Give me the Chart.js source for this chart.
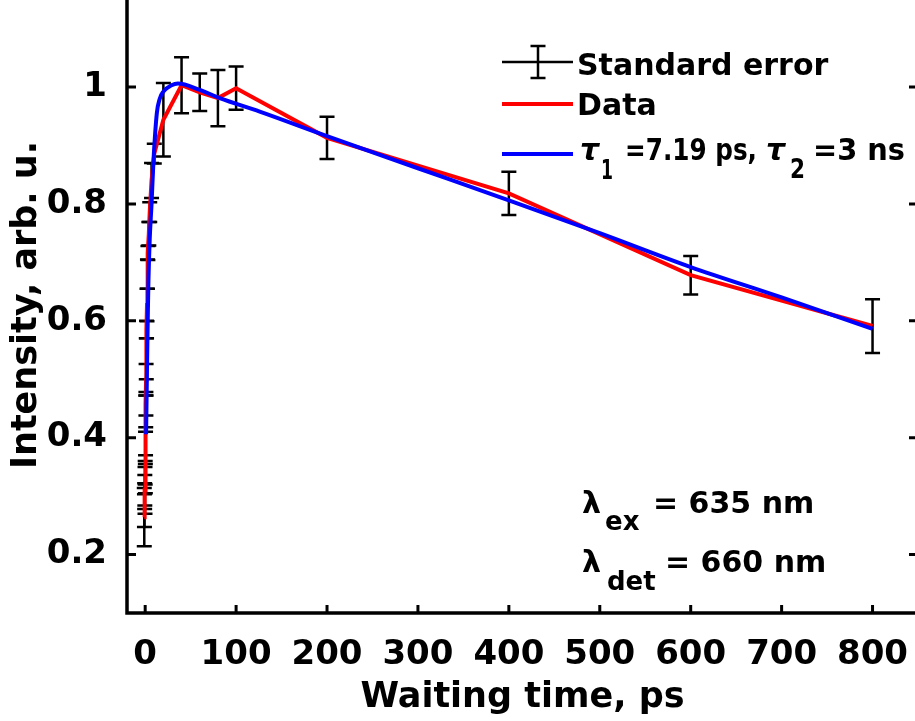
<!DOCTYPE html>
<html>
<head>
<meta charset="utf-8">
<script src="https://cdn.jsdelivr.net/npm/chart.js@4.4.1/dist/chart.umd.min.js"></script>
<style>
  html, body { margin: 0; padding: 0; background: #fff; overflow: hidden; }
  #wrap { width: 930px; height: 724px; margin-top: -3px; }
</style>
</head>
<body>
<div id="wrap"><canvas id="myChart"></canvas></div>
<script>
// measured points (ps) with standard error
const times  = [-1.0, -0.8, -0.6, -0.4, -0.2, 0, 0.2, 0.4, 0.6, 0.8, 1.0, 1.2, 1.5, 2.0, 2.5, 3.0, 4.0, 5.0, 7.0, 10, 20, 40, 60, 80, 100, 200, 400, 600, 800];
const values = [0.264, 0.275, 0.300, 0.310, 0.310, 0.340, 0.330, 0.390, 0.445, 0.458, 0.499, 0.535, 0.585, 0.627, 0.680, 0.716, 0.749, 0.786, 0.840, 0.886, 0.944, 1.003, 0.991, 0.981, 0.998, 0.913, 0.818, 0.678, 0.591];
const errors = [0.050, 0.028, 0.022, 0.026, 0.040, 0.020, 0.025, 0.020, 0.027, 0.020, 0.027, 0.035, 0.015, 0.028, 0.025, 0.012, 0.020, 0.017, 0.030, 0.017, 0.063, 0.048, 0.032, 0.048, 0.037, 0.036, 0.037, 0.033, 0.046];

// fit curve
const fitTimes  = [1, 2, 3, 3.6, 5, 7, 9, 12.8, 16, 20, 29, 36, 60, 82, 126, 200, 300, 400, 500, 600, 700, 800];
const fitValues = [0.406, 0.52, 0.62, 0.67, 0.74, 0.80, 0.87, 0.955, 0.98, 0.992, 1.003, 1.006, 0.995, 0.981, 0.958, 0.916, 0.861, 0.806, 0.750, 0.692, 0.640, 0.586];

const xTicks = [0, 100, 200, 300, 400, 500, 600, 700, 800];
const yTicks = [0.2, 0.4, 0.6, 0.8, 1];
const yTickLabels = ["0.2", "0.4", "0.6", "0.8", "1"];

const FONT = "'DejaVu Sans', sans-serif";
Chart.defaults.font.family = FONT;
Chart.defaults.font.weight = "bold";
Chart.defaults.color = "#000";

const errorBars = {
  id: "errorBars",
  beforeDatasetsDraw(chart) {
    const { ctx, chartArea, scales: { x, y } } = chart;
    ctx.save();
    ctx.beginPath();
    ctx.rect(chartArea.left, chartArea.top, chartArea.right - chartArea.left, chartArea.bottom - chartArea.top);
    ctx.clip();
    ctx.strokeStyle = "#000";
    ctx.lineWidth = 2.5;
    times.forEach((t, i) => {
      const px = x.getPixelForValue(t);
      const top = y.getPixelForValue(values[i] + errors[i]);
      const bot = y.getPixelForValue(values[i] - errors[i]);
      ctx.beginPath();
      ctx.moveTo(px, top); ctx.lineTo(px, bot);
      ctx.moveTo(px - 7.5, top); ctx.lineTo(px + 7.5, top);
      ctx.moveTo(px - 7.5, bot); ctx.lineTo(px + 7.5, bot);
      ctx.stroke();
    });
    ctx.restore();
  }
};

const frame = {
  id: "frame",
  afterDraw(chart) {
    const { ctx, chartArea: a, scales: { x, y } } = chart;
    ctx.save();
    ctx.strokeStyle = "#000";
    ctx.lineWidth = 3.5;
    ctx.strokeRect(a.left, a.top, a.right - a.left, a.bottom - a.top);
    ctx.lineWidth = 3;
    ctx.beginPath();
    yTicks.forEach(v => {
      const py = y.getPixelForValue(v);
      ctx.moveTo(a.left, py); ctx.lineTo(a.left + 9, py);
      ctx.moveTo(a.right, py); ctx.lineTo(a.right - 9, py);
    });
    xTicks.forEach(v => {
      const px = x.getPixelForValue(v);
      ctx.moveTo(px, a.bottom); ctx.lineTo(px, a.bottom - 8);
    });
    ctx.stroke();
    ctx.restore();
  }
};

// legend and wavelength notes (page y + 3 because the canvas is shifted up)
const notes = {
  id: "notes",
  afterDraw(chart) {
    const { ctx } = chart;
    ctx.save();
    ctx.translate(0, 3);
    ctx.fillStyle = "#000";
    ctx.textBaseline = "alphabetic";
    ctx.textAlign = "left";

    ctx.lineWidth = 2.5;
    ctx.strokeStyle = "#000";
    ctx.beginPath();
    ctx.moveTo(502, 62); ctx.lineTo(573, 62);
    ctx.moveTo(538, 46); ctx.lineTo(538, 78);
    ctx.moveTo(530.5, 46); ctx.lineTo(545.5, 46);
    ctx.moveTo(530.5, 78); ctx.lineTo(545.5, 78);
    ctx.stroke();
    ctx.lineWidth = 4;
    ctx.strokeStyle = "#ff0000";
    ctx.beginPath(); ctx.moveTo(502, 104); ctx.lineTo(573, 104); ctx.stroke();
    ctx.strokeStyle = "#0000ff";
    ctx.beginPath(); ctx.moveTo(502, 154); ctx.lineTo(573, 154); ctx.stroke();

    const big = "bold 30px " + FONT;
    const sub = "bold 26px " + FONT;
    const greek = "italic bold 30px " + FONT;
    ctx.font = big;
    ctx.fillText("Standard error", 577, 75);
    ctx.fillText("Data", 577, 115);

    ctx.font = greek; ctx.fillText("\u03C4", 580, 160);
    ctx.font = sub;   ctx.fillText("1", 601, 179, 12);
    ctx.font = big;   ctx.fillText("=7.19 ps,", 625, 160, 132);
    ctx.font = greek; ctx.fillText("\u03C4", 766, 160);
    ctx.font = sub;   ctx.fillText("2", 790, 178, 15);
    ctx.font = big;   ctx.fillText("=3 ns", 813, 160, 92);

    ctx.font = big; ctx.fillText("\u03BB", 582, 513);
    ctx.font = sub; ctx.fillText("ex", 605, 530);
    ctx.font = big; ctx.fillText("= 635 nm", 653, 513);
    ctx.font = big; ctx.fillText("\u03BB", 582, 572);
    ctx.font = sub; ctx.fillText("det", 607, 590);
    ctx.font = big; ctx.fillText("= 660 nm", 665, 572);
    ctx.restore();
  }
};

const ctx = document.getElementById("myChart");

new Chart(ctx, {
  type: "line",
  data: {
    datasets: [
      {
        label: "Data",
        data: times.map((t, i) => ({ x: t, y: values[i] })),
        borderColor: "#ff0000",
        borderWidth: 4,
        pointRadius: 0,
        tension: 0,
        order: 2
      },
      {
        label: "Fit",
        data: fitTimes.map((t, i) => ({ x: t, y: fitValues[i] })),
        borderColor: "#0000ff",
        borderWidth: 4,
        pointRadius: 0,
        cubicInterpolationMode: "monotone",
        order: 1
      }
    ]
  },
  options: {
    responsive: true,
    maintainAspectRatio: false,
    animation: false,
    layout: { padding: { left: 0, right: 12, top: 0, bottom: 0 } },
    plugins: { legend: { display: false }, tooltip: { enabled: false } },
    scales: {
      x: {
        type: "linear",
        min: -20,
        max: 850,
        afterBuildTicks: s => { s.ticks = xTicks.map(v => ({ value: v })); },
        afterFit: s => { s.height = 108; s.paddingLeft = 0; s.paddingRight = 0; },
        grid: { display: false, drawTicks: false },
        border: { display: false },
        ticks: { padding: 22, font: { size: 34, weight: "bold" }, maxRotation: 0 },
        title: { display: true, text: "Waiting time, ps", font: { size: 35, weight: "bold" }, padding: { top: 0, bottom: 2 } }
      },
      y: {
        min: 0.1,
        max: 1.154,
        afterBuildTicks: s => { s.ticks = yTicks.map(v => ({ value: v })); },
        afterFit: s => { s.width = 127; s.paddingTop = 0; s.paddingBottom = 0; },
        grid: { display: false, drawTicks: false },
        border: { display: false },
        ticks: { padding: 20, font: { size: 34, weight: "bold" }, callback: (v, i) => yTickLabels[i] },
        title: { display: true, text: "Intensity, arb. u.", font: { size: 35, weight: "bold" }, padding: { top: 6, bottom: 0 } }
      }
    }
  },
  plugins: [errorBars, frame, notes]
});
</script>
</body>
</html>
